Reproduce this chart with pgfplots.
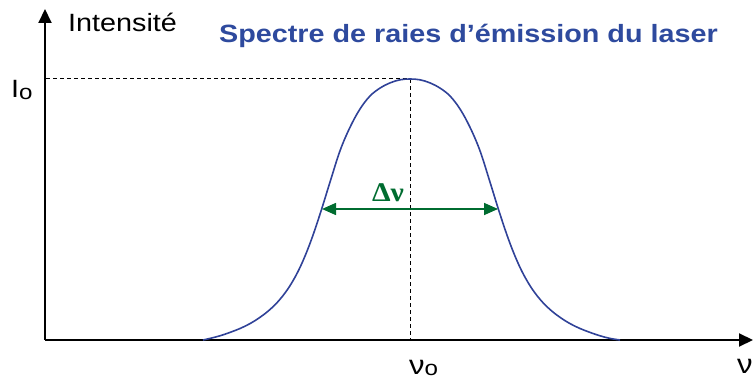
\documentclass[border=0pt]{standalone}
\usepackage{pgfplots}
\pgfplotsset{compat=1.18}
\usetikzlibrary{arrows.meta}
\usepackage{fontspec}
\setmainfont{Liberation Sans}[FakeStretch=1.15]
\newfontfamily\serifgr{Liberation Serif}[FakeStretch=1.1]
\definecolor{titleblue}{RGB}{46,74,158}
\definecolor{curveblue}{RGB}{48,66,152}
\definecolor{arrgreen}{RGB}{0,108,48}
\begin{document}
\begin{tikzpicture}
\path[use as bounding box] (0,0) rectangle (753bp,380bp);
\begin{axis}[at={(0,0)}, anchor=south west, width=753bp, height=380bp, scale only axis,
  xmin=0, xmax=753, ymin=0, ymax=380, hide axis, clip=false]
% axes
\addplot[black, line width=2bp, -{Triangle[length=14bp,width=13bp]}] coordinates {(45,40) (753,40)};
\addplot[black, line width=2bp, -{Triangle[length=14bp,width=13bp]}] coordinates {(45,40) (45,371)};
% dashed guides
\addplot[black, line width=1bp, dash pattern=on 4bp off 3bp] coordinates {(46,301) (410,301)};
\addplot[black, line width=1bp, dash pattern=on 4bp off 3bp] coordinates {(410,301) (410,41)};
% emission line profile
\addplot[curveblue, line width=1.6bp, smooth, tension=0.6] coordinates {
(203,40) (210,41.6) (220,44.2) (230,47.6) (240,51.5) (250,56.4) (260,62.7)
(270,70.5) (280,80.7) (290,94.3) (300,112.6) (310,136.6) (320,165.8)
(330,197.9) (340,229.2) (350,252.7) (360,271.0) (370,284.0) (380,291.9)
(390,297.1) (400,300.2) (410,301)
(420,300.2) (430,297.1) (440,291.9) (450,284.0) (460,271.0) (470,252.7)
(480,229.2) (490,197.9) (500,165.8) (510,136.6) (520,112.6) (530,94.3)
(540,80.7) (550,70.5) (560,62.7) (570,56.4) (580,51.5) (590,47.6)
(600,44.2) (610,41.6) (620,40)};
% width arrow
\addplot[arrgreen, line width=1.6bp, {Triangle[length=14bp,width=12bp]}-{Triangle[length=14bp,width=12bp]}] coordinates {(322,171) (498,171)};
% labels
\node[anchor=base west, inner sep=0, font=\fontsize{25bp}{30bp}\selectfont] at (axis cs:68,348) {Intensité};
\node[anchor=base west, inner sep=0, text=titleblue, font=\fontsize{25bp}{30bp}\selectfont\bfseries] at (axis cs:219,337) {Spectre de raies d’émission du laser};
\node[anchor=base west, inner sep=0, font=\fontsize{25bp}{30bp}\selectfont] at (axis cs:11,282) {I\raisebox{-2bp}{\fontsize{21bp}{25bp}\selectfont o}};
\node[anchor=base west, inner sep=0, font=\fontsize{27bp}{30bp}\selectfont] at (axis cs:409,5) {ν\raisebox{-1bp}{\fontsize{21bp}{25bp}\selectfont o}};
\node[anchor=base west, inner sep=0, font=\fontsize{27bp}{30bp}\selectfont] at (axis cs:737,6) {ν};
\node[anchor=base, inner sep=0, text=arrgreen, font=\fontsize{27bp}{30bp}\selectfont\serifgr\bfseries] at (axis cs:388,178) {Δν};
\end{axis}
\end{tikzpicture}
\end{document}
